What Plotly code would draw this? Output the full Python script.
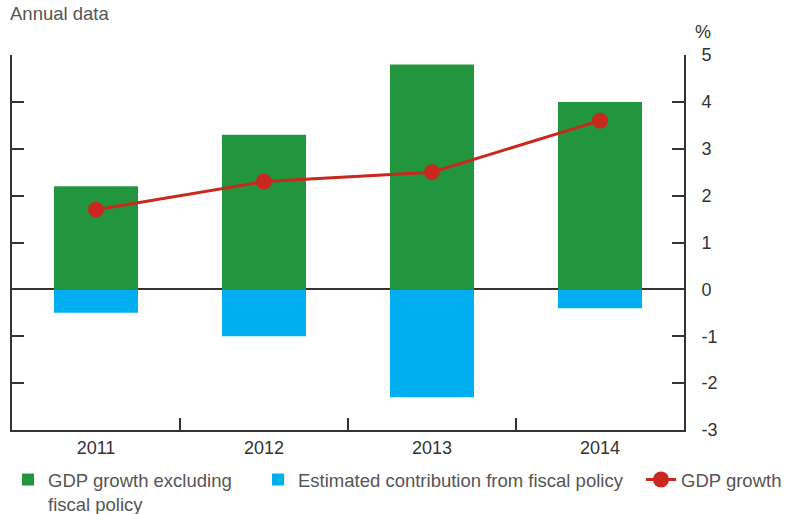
import plotly.graph_objects as go

years = ["2011", "2012", "2013", "2014"]
gdp_ex_fiscal = [2.2, 3.3, 4.8, 4.0]
fiscal_contrib = [-0.5, -1.0, -2.3, -0.4]
gdp_growth = [1.7, 2.3, 2.5, 3.6]
y_ticks = [-3, -2, -1, 0, 1, 2, 3, 4, 5]
y_ticktext = ["-3", "-2", "-1", "0", "1", "2", "3", "4", "5"]

GREEN = "#22963f"
BLUE = "#00aeef"
RED = "#c8281e"
AX = "#333333"
TXT = "#555555"
FONT = "Liberation Sans, Arial, sans-serif"
FS = 18
FS_LEG = 18.5

W, H = 794, 514
ml, mr, mt, mb = 12, 110, 55, 84
pw = W - ml - mr
ph = H - mt - mb

def px_x(p):
    return (p - ml) / pw

fig = go.Figure()
fig.add_trace(go.Bar(x=years, y=gdp_ex_fiscal, name="GDP growth excluding<br>fiscal policy",
                     marker=dict(color=GREEN, line=dict(width=0)), width=0.5, legend="legend"))
fig.add_trace(go.Bar(x=years, y=fiscal_contrib, name="Estimated contribution from fiscal policy",
                     marker=dict(color=BLUE, line=dict(width=0)), width=0.5, legend="legend2"))
fig.add_trace(go.Scatter(x=years, y=gdp_growth, name="GDP growth", mode="lines+markers",
                         line=dict(color=RED, width=3), marker=dict(color=RED, size=16),
                         yaxis="y2", legend="legend3"))

leg_common = dict(orientation="h", xanchor="left", yanchor="top", xref="container", yref="container",
                  font=dict(size=FS_LEG, color=TXT, family=FONT), valign="top",
                  bgcolor="rgba(0,0,0,0)", borderwidth=0, tracegroupgap=0, itemwidth=30)
ly = 1 - 461 / H

fig.update_layout(
    width=W, height=H,
    margin=dict(l=ml, r=mr, t=mt, b=mb, autoexpand=False),
    paper_bgcolor="white", plot_bgcolor="white",
    barmode="relative",
    showlegend=True,
    font=dict(family=FONT, color=AX, size=FS),
    title=dict(text="Annual data", x=10 / W, xanchor="left", xref="container",
               y=1 - 14 / H, yanchor="middle", yref="container",
               font=dict(size=FS_LEG, color=TXT, family=FONT)),
    xaxis=dict(type="category", showline=True, linecolor=AX, linewidth=2,
               ticks="inside", tickson="boundaries", ticklen=12, tickwidth=2, tickcolor=AX,
               showgrid=False, tickfont=dict(size=FS, color=AX), range=[-0.5, 3.5]),
    yaxis=dict(range=[-3, 5], tickvals=y_ticks, ticktext=y_ticktext, showticklabels=False,
               ticks="inside", ticklen=12, tickwidth=2, tickcolor=AX,
               showline=True, linecolor=AX, linewidth=2, showgrid=False,
               zeroline=True, zerolinecolor=AX, zerolinewidth=1.5),
    yaxis2=dict(range=[-3, 5], tickvals=y_ticks, ticktext=y_ticktext, overlaying="y", side="right",
                ticks="inside", ticklen=12, tickwidth=2, tickcolor=AX,
                showline=True, linecolor=AX, linewidth=2, showgrid=False, zeroline=False,
                tickfont=dict(size=FS, color=AX), ticklabelstandoff=12),
    legend=dict(x=8 / W, y=ly, **leg_common),
    legend2=dict(x=258 / W, y=ly, **leg_common),
    legend3=dict(x=641 / W, y=ly, **leg_common),
    annotations=[dict(text="%", xref="paper", yref="paper", x=px_x(703), y=(mt + ph - 32) / ph,
                      xanchor="center", yanchor="middle", showarrow=False,
                      font=dict(size=FS, color=AX, family=FONT))],
)

fig.write_html("out.html", config={"displayModeBar": False},
               post_script="document.body.style.margin='0';")
